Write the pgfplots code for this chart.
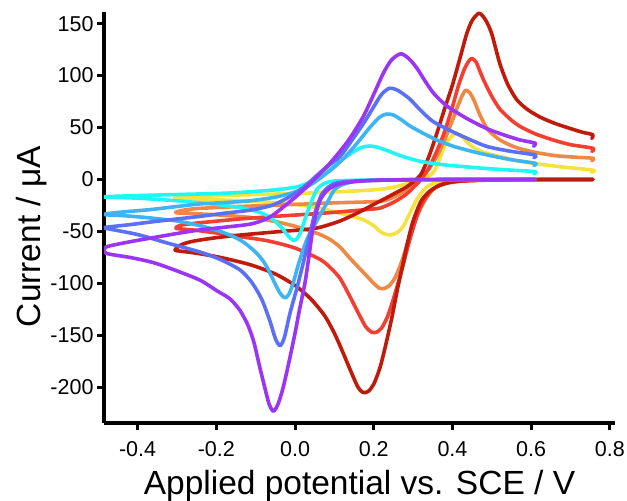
\documentclass[border=0pt]{standalone}
\usepackage{pgfplots}
\pgfplotsset{compat=1.18}
\usepackage{fontspec}
\setmainfont{Liberation Sans}
\definecolor{cvdred}{RGB}{192,26,10}
\definecolor{cvred}{RGB}{243,62,50}
\definecolor{cvorange}{RGB}{238,136,68}
\definecolor{cvyellow}{RGB}{246,226,60}
\definecolor{cvcyan}{RGB}{34,245,245}
\definecolor{cvlblue}{RGB}{62,180,245}
\definecolor{cvblue}{RGB}{92,112,245}
\definecolor{cvpurple}{RGB}{156,52,246}
\begin{document}
\begin{tikzpicture}
\begin{axis}[
  width=511pt, height=411.3pt, scale only axis,
  xmin=-0.4854, xmax=0.813, ymin=-234.4, ymax=161.5,
  axis x line*=bottom, axis y line*=left,
  axis line style={line width=4pt, black},
  tick align=outside, major tick length=7pt,
  tick style={line width=3pt, black},
  xtick={-0.4,-0.2,0,0.2,0.4,0.6,0.8},
  ytick={-200,-150,-100,-50,0,50,100,150},
  /pgf/number format/assume math mode=true,
  xticklabel style={/pgf/number format/.cd, fixed, fixed zerofill, precision=1, /tikz/.cd, yshift=-8pt},
  ticklabel style={font=\fontsize{21.5}{25}\selectfont},
  xlabel={Applied potential vs. SCE / V},
  ylabel={Current / μA},
  label style={font=\fontsize{33.5}{40}\selectfont},
  xlabel style={at={(axis description cs:0.5,0)}, anchor=base, yshift=-71pt},
  ylabel style={at={(axis description cs:-0.1252,0.4534)}, anchor=base},
  every axis plot/.append style={line width=3.6pt, smooth, tension=0.45, line cap=round, line join=round},
]
% yellow
\addplot[cvyellow] coordinates {
(0.757,0) (0.6,0) (0.5,-0.3) (0.43,-1) (0.39,-2) (0.37,-3) (0.35,-4) (0.33,-9) (0.309,-19.5) (0.29,-34) (0.275,-45) (0.26,-51) (0.241,-53.4) (0.225,-52) (0.216,-50) (0.2,-44.5) (0.175,-39) (0.148,-35.8) (0.1,-31) (0.064,-27.7) (0.0,-24) (-0.1,-21) (-0.2,-19.5) (-0.302,-18)
(-0.29,-16.5) (-0.2,-15.5) (-0.1,-14.5) (0.0,-13.5) (0.1,-12) (0.2,-10) (0.25,-7.5) (0.29,-3.5) (0.32,0) (0.35,6) (0.365,17) (0.377,30) (0.395,40.5) (0.411,44.5) (0.425,41) (0.44,35) (0.453,31) (0.48,26) (0.521,22) (0.56,18.5) (0.605,15.6) (0.68,12) (0.757,9) (0.754,7)};
% orange
\addplot[cvorange] coordinates {
(0.757,0) (0.6,0) (0.5,-0.4) (0.44,-1) (0.40,-2.5) (0.37,-5) (0.35,-10) (0.33,-20) (0.31,-35) (0.29,-57) (0.27,-80) (0.255,-94) (0.24,-102) (0.226,-105) (0.214,-104.5) (0.20,-100) (0.185,-94) (0.165,-86) (0.14,-76) (0.114,-65) (0.09,-58) (0.064,-53) (0.03,-48.5) (0.0,-45) (-0.05,-40.5) (-0.114,-36.5) (-0.2,-34) (-0.25,-33) (-0.302,-32)
(-0.29,-30) (-0.25,-28) (-0.14,-26) (0.0,-24) (0.1,-22.5) (0.216,-21) (0.25,-17) (0.28,-11) (0.30,-5) (0.32,2) (0.34,10) (0.36,22) (0.38,38) (0.40,57) (0.415,72) (0.425,81) (0.434,86) (0.445,83) (0.455,76) (0.47,62) (0.49,48) (0.521,38) (0.56,31) (0.605,26.5) (0.66,23) (0.71,21.5) (0.757,20.4) (0.754,18)};
% red
\addplot[cvred] coordinates {
(0.757,0) (0.6,0) (0.5,-0.4) (0.44,-1) (0.4,-2.5) (0.37,-5) (0.345,-11) (0.325,-22) (0.31,-35) (0.29,-60) (0.27,-89) (0.25,-115) (0.235,-132) (0.22,-143) (0.207,-147) (0.195,-147) (0.18,-142) (0.16,-128) (0.14,-113) (0.114,-95) (0.09,-85) (0.064,-77) (0.0,-66) (-0.07,-59) (-0.14,-55) (-0.2,-51.5) (-0.25,-49) (-0.302,-47)
(-0.29,-44) (-0.25,-42) (-0.14,-38) (-0.05,-35.5) (0.05,-33) (0.12,-31) (0.18,-29) (0.216,-27.5) (0.25,-22) (0.28,-15) (0.30,-8) (0.32,0) (0.34,11) (0.36,27) (0.38,46) (0.40,70) (0.415,90) (0.43,106) (0.44,113) (0.449,116.6) (0.46,113) (0.47,104) (0.48,95) (0.50,80) (0.521,67.5) (0.55,57) (0.572,51) (0.61,44) (0.656,38) (0.70,33.5) (0.757,30) (0.754,27)};
% dark red
\addplot[cvdred] coordinates {
(0.757,0) (0.65,0) (0.55,-0.3) (0.47,-0.8) (0.42,-1.5) (0.39,-3) (0.36,-7) (0.34,-12) (0.32,-21) (0.30,-40) (0.285,-62) (0.275,-80) (0.26,-106) (0.246,-133) (0.23,-160) (0.216,-181) (0.20,-197) (0.186,-204) (0.173,-205) (0.16,-200) (0.14,-183) (0.12,-165) (0.1,-148) (0.075,-131) (0.04,-115) (0.0,-102) (-0.05,-91) (-0.114,-82) (-0.19,-75) (-0.25,-71) (-0.29,-69) (-0.305,-68)
(-0.29,-63) (-0.26,-59.5) (-0.2,-56) (-0.14,-53.5) (-0.05,-50.5) (0.03,-48) (0.064,-46) (0.114,-40) (0.16,-32) (0.2,-24) (0.233,-17.5) (0.26,-12) (0.28,-8) (0.30,-2.5) (0.32,5) (0.34,22) (0.36,44) (0.38,68) (0.40,91) (0.42,118) (0.436,140) (0.45,153) (0.468,160) (0.485,153) (0.50,140) (0.52,112) (0.54,92) (0.563,77) (0.59,67.5) (0.623,60) (0.66,54) (0.70,49) (0.73,45.5) (0.757,43) (0.754,39.5)};
% cyan
\addplot[cvcyan] coordinates {
(0.61,0) (0.4,0) (0.25,-0.3) (0.15,-0.8) (0.1,-1.5) (0.08,-3) (0.065,-6) (0.055,-10) (0.045,-18) (0.03,-33) (0.015,-50) (0.005,-57) (-0.005,-58.5) (-0.018,-54) (-0.035,-46) (-0.055,-39) (-0.08,-33) (-0.11,-29.5) (-0.14,-27) (-0.2,-24) (-0.3,-20.5) (-0.4,-18) (-0.48,-17)
(-0.48,-16.5) (-0.4,-15.5) (-0.3,-14.5) (-0.2,-13.5) (-0.14,-12.5) (-0.05,-10) (0.0,-7.5) (0.03,-4) (0.06,2) (0.09,10) (0.12,19) (0.15,27) (0.17,31) (0.19,32.2) (0.21,31) (0.24,27) (0.275,22) (0.318,17.5) (0.36,15) (0.394,13.5) (0.44,12) (0.487,10.5) (0.55,9) (0.61,7.5) (0.607,5.5)};
% light blue
\addplot[cvlblue] coordinates {
(0.61,0) (0.4,0) (0.25,-0.4) (0.16,-1.5) (0.12,-5) (0.1,-10) (0.085,-20) (0.07,-30) (0.055,-40) (0.03,-58) (0.01,-80) (-0.005,-100) (-0.015,-110) (-0.025,-114) (-0.037,-110) (-0.05,-101) (-0.065,-89) (-0.08,-79) (-0.1,-70) (-0.125,-62) (-0.148,-56.5) (-0.19,-50) (-0.241,-44.5) (-0.3,-40) (-0.368,-37) (-0.43,-35) (-0.48,-34)
(-0.48,-33) (-0.43,-31) (-0.368,-29) (-0.3,-26) (-0.241,-23.5) (-0.17,-22) (-0.114,-20.5) (-0.05,-17) (0.0,-12) (0.04,-5) (0.07,3) (0.1,12) (0.13,23) (0.16,36) (0.19,50) (0.215,60) (0.233,63) (0.25,62) (0.27,57.5) (0.29,52) (0.318,46) (0.36,38) (0.402,32) (0.45,27) (0.49,23.5) (0.55,19) (0.61,15.6) (0.607,13.5)};
% blue
\addplot[cvblue] coordinates {
(0.61,0) (0.4,0) (0.25,-0.5) (0.15,-1.5) (0.1,-4) (0.07,-13) (0.05,-33) (0.03,-66) (0.008,-100) (-0.013,-129) (-0.027,-152) (-0.038,-160) (-0.05,-153) (-0.064,-136) (-0.085,-115) (-0.11,-99) (-0.14,-87) (-0.19,-77) (-0.24,-70) (-0.326,-61) (-0.4,-53) (-0.48,-47)
(-0.48,-46) (-0.42,-43.5) (-0.368,-41) (-0.3,-38) (-0.241,-35.5) (-0.18,-32.5) (-0.114,-29.5) (-0.06,-25) (-0.02,-18) (0.02,-8) (0.05,2) (0.08,12) (0.114,22) (0.145,38) (0.174,54) (0.2,70) (0.22,82) (0.24,87.8) (0.26,86) (0.29,78) (0.318,67) (0.35,56) (0.4,46) (0.45,37.5) (0.49,31.5) (0.55,27) (0.61,23.6) (0.607,21)};
% purple
\addplot[cvpurple] coordinates {
(0.61,0) (0.4,0) (0.25,-0.4) (0.18,-1.2) (0.13,-3) (0.1,-6) (0.08,-11) (0.065,-19) (0.055,-30) (0.045,-48) (0.035,-75) (0.025,-100) (0.01,-128) (0.0,-148) (-0.015,-175) (-0.03,-200) (-0.043,-216) (-0.055,-223) (-0.066,-216) (-0.077,-200) (-0.09,-180) (-0.105,-156) (-0.12,-140) (-0.14,-126) (-0.165,-115) (-0.199,-107) (-0.241,-97) (-0.3,-88) (-0.36,-80) (-0.42,-75) (-0.48,-71)
(-0.48,-65) (-0.42,-60) (-0.368,-56.5) (-0.3,-52) (-0.241,-48.5) (-0.18,-46) (-0.114,-43) (-0.08,-39) (-0.055,-34) (-0.025,-25) (0.004,-16) (0.03,-7) (0.055,2.5) (0.085,14) (0.114,27) (0.14,40) (0.174,61) (0.2,82) (0.224,102) (0.245,115) (0.269,121) (0.29,116) (0.31,107) (0.33,95) (0.35,84) (0.37,76) (0.394,68.5) (0.44,58) (0.487,49) (0.53,43) (0.572,38) (0.61,35) (0.606,32)};
\end{axis}
\pgfresetboundingbox
\path[use as bounding box] ([xshift=-104pt,yshift=-78pt]current axis.south west) rectangle ([xshift=523pt,yshift=423pt]current axis.south west);
\end{tikzpicture}
\end{document}
